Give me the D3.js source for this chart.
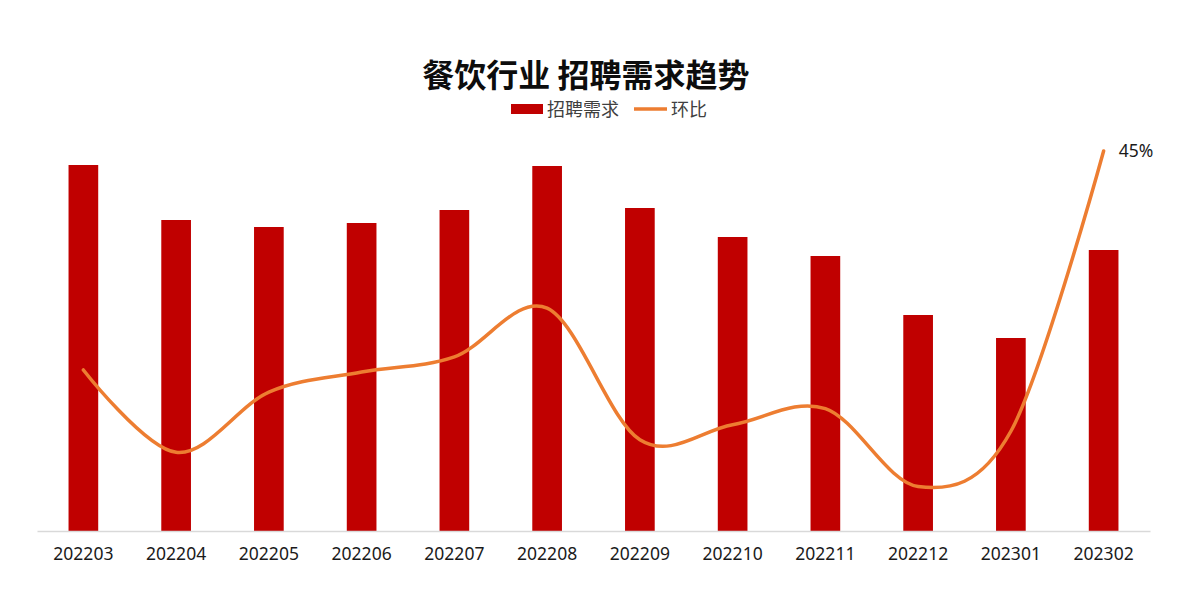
<!DOCTYPE html>
<html>
<head>
<meta charset="utf-8">
<script src="https://cdn.jsdelivr.net/npm/d3@7"></script>
<style>
  html, body { margin: 0; padding: 0; background: #fff; }
  svg { display: block; font-family: "Noto Sans CJK SC", "Noto Sans", sans-serif; }
</style>
</head>
<body>
<svg id="chart" width="1200" height="612"></svg>
<script>
const categories = ["202203","202204","202205","202206","202207","202208","202209","202210","202211","202212","202301","202302"];
const demand = [366, 311, 304, 308, 321, 365, 323, 294, 275, 216, 193, 281];
const momPct = [1.4, -15.0, -3.0, 1.0, 4.0, 13.7, -12.5, -9.5, -6.3, -21.8, -10.8, 45];
const seriesNames = ["招聘需求", "环比"];
const titleText = "餐饮行业 招聘需求趋势";

const svg = d3.select("#chart");
const W = 1200, H = 612;
const left = 37, right = 1150, base = 531;

svg.append("rect").attr("width", W).attr("height", H).attr("fill", "#fff");

const x = d3.scaleBand().domain(categories).range([left, right])
  .paddingInner(0.68).paddingOuter(0.34);
const yBar = d3.scaleLinear().domain([0, 366]).range([base, 165]);
const yLine = d3.scaleLinear().domain([0, 45]).range([377, 151]);

// bars
svg.append("g").selectAll("rect").data(categories).join("rect")
  .attr("x", d => x(d))
  .attr("width", x.bandwidth())
  .attr("y", (d, i) => yBar(demand[i]))
  .attr("height", (d, i) => base - yBar(demand[i]))
  .attr("fill", "#C00000");

// axis
const axis = d3.axisBottom(x).tickSize(0).tickPadding(17);
const gx = svg.append("g").attr("transform", `translate(0,${base})`).call(axis);
gx.select(".domain").attr("stroke", "#d9d9d9").attr("stroke-width", 1.5);
gx.selectAll("text").attr("font-size", 17.5).attr("fill", "#1a1a1a")
  .attr("font-family", "'Noto Sans', 'Open Sans', sans-serif");

// line
const line = d3.line()
  .x((d, i) => x(categories[i]) + x.bandwidth() / 2)
  .y(d => yLine(d))
  .curve(d3.curveCatmullRom.alpha(0));
svg.append("path").datum(momPct)
  .attr("d", line)
  .attr("fill", "none")
  .attr("stroke", "#ED7D31")
  .attr("stroke-width", 3.5)
  .attr("stroke-linecap", "round");

// data label for last point
const lastI = momPct.length - 1;
svg.append("text")
  .attr("x", x(categories[lastI]) + x.bandwidth() / 2 + 15)
  .attr("y", yLine(momPct[lastI]) + 6)
  .attr("font-size", 17.5)
  .attr("fill", "#1a1a1a")
  .attr("font-family", "'Noto Sans', 'Open Sans', sans-serif")
  .text(d3.format(".0f")(momPct[lastI]) + "%");

// title
svg.append("text")
  .attr("x", 586).attr("y", 87)
  .attr("text-anchor", "middle")
  .attr("font-size", 32)
  .attr("font-weight", "bold")
  .attr("fill", "#0d0d0d")
  .text(titleText);

// legend
const lg = svg.append("g");
lg.append("rect").attr("x", 511).attr("y", 104).attr("width", 32).attr("height", 10).attr("fill", "#C00000");
lg.append("text").attr("x", 547).attr("y", 116).attr("font-size", 18).attr("fill", "#404040").text(seriesNames[0]);
lg.append("line").attr("x1", 634).attr("x2", 667).attr("y1", 109).attr("y2", 109)
  .attr("stroke", "#ED7D31").attr("stroke-width", 3.5);
lg.append("text").attr("x", 671).attr("y", 116).attr("font-size", 18).attr("fill", "#404040").text(seriesNames[1]);
</script>
</body>
</html>
